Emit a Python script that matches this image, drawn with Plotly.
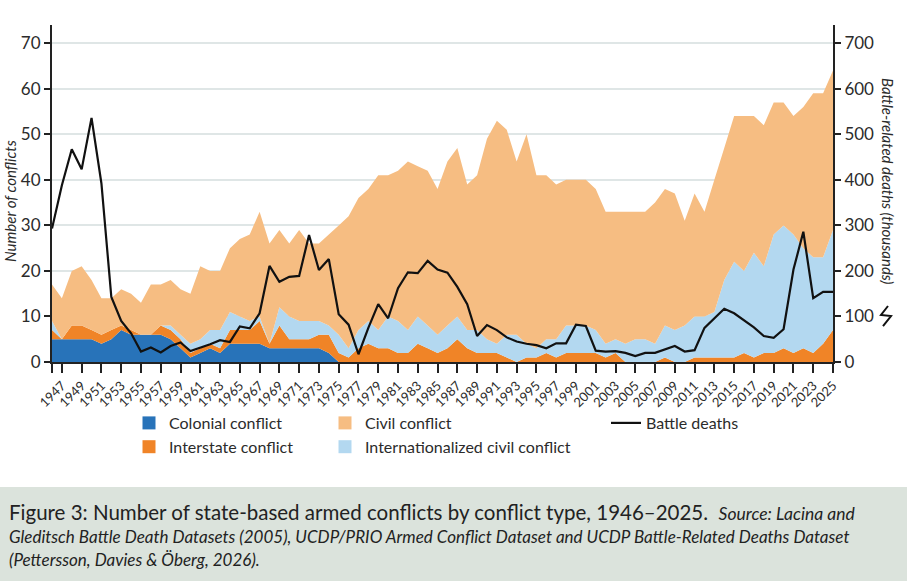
import plotly.graph_objects as go

years = list(range(1946, 2026))

colonial = [5, 5, 5, 5, 5, 4, 5, 7, 6, 6,
            6, 6, 5, 3, 1, 2, 3, 2, 4, 4,
            4, 4, 3, 3, 3, 3, 3, 3, 2, 0] + [0] * 50
interstate = [2, 0, 3, 3, 2, 2, 2, 1, 1, 0,
              0, 2, 2, 2, 1, 1, 1, 1, 3, 3,
              3, 5, 1, 5, 2, 2, 2, 3, 4, 2,
              1, 3, 4, 3, 3, 2, 2, 4, 3, 2,
              3, 5, 3, 2, 2, 2, 1, 0, 1, 1,
              2, 1, 2, 2, 2, 2, 1, 2, 0, 0,
              0, 0, 1, 0, 0, 1, 1, 1, 1, 1,
              2, 1, 2, 2, 3, 2, 3, 2, 4, 7]
internationalized = [2, 0, 0, 0, 0, 0, 0, 0, 0, 0,
                     0, 0, 1, 1, 2, 2, 3, 4, 4, 3,
                     2, 1, 0, 4, 5, 4, 4, 3, 2, 4,
                     2, 4, 5, 4, 7, 7, 5, 6, 5, 4,
                     5, 5, 4, 5, 3, 2, 5, 6, 3, 2,
                     3, 4, 6, 6, 6, 5, 3, 3, 4, 5,
                     5, 4, 7, 7, 8, 9, 9, 10, 17, 21,
                     18, 23, 19, 26, 27, 26, 22, 21, 19, 22]
civil = [8, 9, 12, 13, 11, 8, 7, 8, 8, 7,
         11, 9, 10, 10, 11, 16, 13, 13, 14, 17,
         19, 23, 22, 17, 16, 20, 17, 17, 20, 24,
         29, 29, 29, 34, 31, 33, 37, 33, 34, 32,
         36, 37, 32, 34, 44, 49, 45, 38, 46, 38,
         36, 34, 32, 32, 32, 31, 29, 28, 29, 28,
         28, 31, 30, 30, 23, 27, 23, 29, 29, 32,
         34, 30, 31, 29, 27, 26, 31, 36, 36, 35]
# battle-related deaths, thousands
deaths = [293, 388, 467, 423, 536, 392, 143, 90, 63, 23,
          32, 21, 35, 43, 24, 31, 39, 48, 44, 78,
          74, 107, 211, 176, 187, 189, 279, 202, 226, 105,
          82, 17, 75, 127, 96, 162, 197, 195, 222, 203,
          196, 165, 127, 57, 81, 70, 54, 45, 40, 37,
          30, 41, 41, 82, 79, 25, 23, 24, 20, 13,
          20, 20, 28, 35, 23, 26, 75, 96, 117, 107,
          92, 76, 57, 53, 72, 203, 286, 140, 154, 154]

x_ticks = [1946] + list(range(1947, 2026, 2))
x_labels = [""] + [str(y) for y in range(1947, 2026, 2)]

FONT = "Lato"
TXT = "#2b2b2b"

# plot area in pixels (907 x 581 page)
PL, PR, PT, PB = 52, 833, 25, 362


def px(x):
    return (x - PL) / (PR - PL)


def py(y):
    return (PB - y) / (PB - PT)


colours = {"Colonial conflict": "#2873b9", "Interstate conflict": "#f08427",
           "Internationalized civil conflict": "#b3d8f0", "Civil conflict": "#f6bd82"}
stack = [("Colonial conflict", colonial), ("Interstate conflict", interstate),
         ("Internationalized civil conflict", internationalized), ("Civil conflict", civil)]
legend_items = [("Colonial conflict", "legend"), ("Interstate conflict", "legend"),
                ("Civil conflict", "legend2"), ("Internationalized civil conflict", "legend2")]

fig = go.Figure()
for name, vals in stack:
    fig.add_trace(go.Scatter(x=years, y=vals, name=name, stackgroup="one",
                             mode="none", fillcolor=colours[name], showlegend=False))

fig.add_trace(go.Scatter(x=years, y=deaths, name="Battle deaths", yaxis="y2",
                         mode="lines", line=dict(color="#111111", width=2.2),
                         legend="legend3"))

# legend swatches
for name, lg in legend_items:
    fig.add_trace(go.Scatter(x=[None], y=[None], name=name, mode="markers",
                             marker=dict(symbol="square", size=13, color=colours[name]),
                             legend=lg))

leg_common = dict(font=dict(family=FONT, size=16, color=TXT), bgcolor="rgba(0,0,0,0)",
                  yanchor="top", xanchor="left", tracegroupgap=0, traceorder="normal")

fig.update_layout(
    width=907, height=581,
    margin=dict(l=PL, r=907 - PR, t=PT, b=581 - PB, autoexpand=False),
    paper_bgcolor="white", plot_bgcolor="white",
    font=dict(family=FONT, color=TXT),
    xaxis=dict(range=[1946, 2025], tickvals=x_ticks, ticktext=x_labels, tickangle=-45,
               ticks="outside", ticklen=9, tickwidth=1.5, tickcolor="#222",
               showline=True, linecolor="#222", linewidth=2, showgrid=False,
               tickfont=dict(family=FONT, size=13, color=TXT), zeroline=False,
               automargin=False),
    yaxis=dict(range=[0, 74], tickvals=list(range(0, 71, 10)), ticks="outside",
               ticklen=6, tickwidth=1.5, tickcolor="#222", showline=True,
               linecolor="#222", linewidth=2, gridcolor="#dfe6e6", gridwidth=1.6,
               zeroline=False, tickfont=dict(family=FONT, size=17, color=TXT),
               automargin=False),
    yaxis2=dict(range=[0, 740], tickvals=list(range(0, 701, 100)), overlaying="y",
                side="right", ticks="outside", ticklen=6, tickwidth=1.5, tickcolor="#222",
                showline=True, linecolor="#222", linewidth=2, showgrid=False,
                zeroline=False, tickfont=dict(family=FONT, size=17, color=TXT),
                automargin=False),
    legend=dict(x=px(129), y=py(406), **leg_common),
    legend2=dict(x=px(325), y=py(406), **leg_common),
    legend3=dict(x=px(606), y=py(406), **leg_common),
    showlegend=True,
)

# axis titles
fig.add_annotation(x=px(10), y=py(201), xref="paper", yref="paper", showarrow=False,
                   xanchor="center", yanchor="middle",
                   text="<i>Number of conflicts</i>", textangle=-90,
                   font=dict(family=FONT, size=15, color=TXT))
fig.add_annotation(x=px(888), y=py(182), xref="paper", yref="paper", showarrow=False,
                   xanchor="center", yanchor="middle",
                   text="<i>Battle-related deaths (thousands)</i>", textangle=90,
                   font=dict(family=FONT, size=15, color=TXT))

# zigzag marker next to right axis
zz = [(888, 306), (881, 315), (891, 316), (883, 326)]
path = "M" + " L".join(f"{px(a):.5f},{py(b):.5f}" for a, b in zz)
fig.add_shape(type="path", path=path, xref="paper", yref="paper",
              line=dict(color="#111", width=2))

# caption box
fig.add_shape(type="rect", xref="paper", yref="paper", x0=px(0), x1=px(907),
              y0=py(581), y1=py(487), fillcolor="#dbe3dc", line=dict(width=0),
              layer="below")
cap1 = ("Figure 3: Number of state-based armed conflicts by conflict type, 1946–2025."
        "&nbsp;&nbsp;<i><span style='font-size:17.5px'>Source: Lacina and</span></i>")
cap2 = ("<i>Gleditsch Battle Death Datasets (2005), UCDP/PRIO Armed Conflict Dataset "
        "and UCDP Battle-Related Deaths Dataset</i>")
cap3 = "<i>(Pettersson, Davies &amp; Öberg, 2026).</i>"
for txt, yy, sz in [(cap1, 512, 20.5), (cap2, 536, 17), (cap3, 559, 17)]:
    fig.add_annotation(x=px(7), y=py(yy), xref="paper", yref="paper", showarrow=False,
                       xanchor="left", yanchor="middle", text=txt, align="left",
                       font=dict(family=FONT, size=sz, color="#222"))

# page body has a default margin; drop it so the figure sits at the window origin
fig.write_html("out.html", config={"displayModeBar": False},
               post_script="document.body.style.margin='0';")
